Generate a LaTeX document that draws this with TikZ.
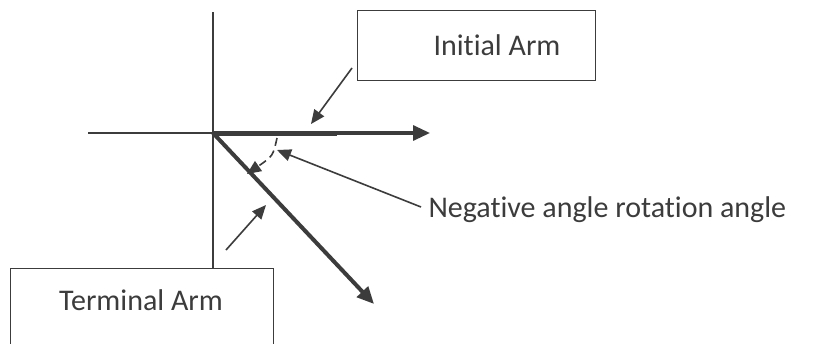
\documentclass[tikz,border=0pt]{standalone}
\usepackage{fontspec}
\setmainfont[Ligatures=NoCommon]{Carlito}
\usetikzlibrary{arrows.meta}
\definecolor{ink}{HTML}{3C3C3C}
\begin{document}
\begin{tikzpicture}[x=1pt,y=-1pt,
  every node/.style={text=ink, font=\fontsize{30}{36}\selectfont},
  axisline/.style={draw=ink, line width=1.6pt},
  arm/.style={draw=ink, line width=4pt, -{Triangle[length=17pt,width=15pt]}},
  pointer/.style={draw=ink, line width=1.6pt, -{Triangle[length=14pt,width=12pt]}},
  box/.style={draw=ink, line width=1.2pt, inner sep=0pt},
  dashedarc/.style={draw=ink, line width=1.6pt, dash pattern=on 8pt off 5pt, -{Triangle[length=14pt,width=12pt]}}]
\useasboundingbox (0,0) rectangle (813,343);
\clip (0,0) rectangle (813,343);
\fill[white] (0,0) rectangle (813,343);
% boxes and labels
\node[box, anchor=north west, minimum width=238pt, minimum height=70pt] (ibox) at (357,10) {};
\node (itext) at (497,45) {Initial Arm};
\node[box, anchor=north west, minimum width=263pt, minimum height=100pt] (tbox) at (10,268) {};
\node (ttext) at (141,300) {Terminal Arm};
\node[anchor=west] (neg) at (425,210) {Negative angle rotation angle};
% coordinates
\coordinate (O) at (213,133);
\coordinate (vtop) at (213,12);
\coordinate (vbot) at (213,268);
\coordinate (hleft) at (88,133);
\coordinate (hright) at (430,133);
\coordinate (ithick) at (337,133);
\coordinate (tarm) at (374,304);
\coordinate (ip1) at (352,68);
\coordinate (ip2) at (311,124);
\coordinate (tp1) at (226,250);
\coordinate (tp2) at (266,205);
\coordinate (np1) at (421,207);
\coordinate (np2) at (277,150);
\coordinate (a1) at (277,138);
\coordinate (a2) at (247,174);
% axes
\draw[axisline] (vtop) -- (vbot);
\draw[axisline] (hleft) -- (O);
\draw[draw=ink, line width=3.2pt, -{Triangle[length=17pt,width=15pt]}] (O) -- (hright);
\draw[draw=ink, line width=5pt] (O) -- (ithick);
% terminal arm
\draw[arm] (O) -- (tarm);
% angle
\draw[dashedarc] (a1) .. controls (273,156) .. (a2);
% pointers
\draw[pointer] (ip1) -- (ip2);
\draw[pointer] (tp1) -- (tp2);
\draw[pointer] (np1) -- (np2);
\end{tikzpicture}
\end{document}
